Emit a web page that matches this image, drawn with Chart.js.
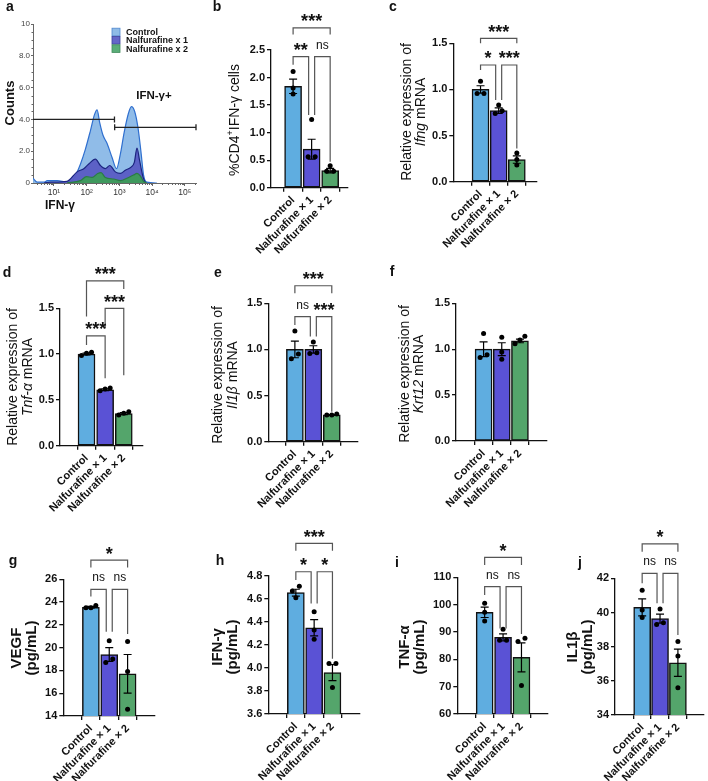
<!DOCTYPE html>
<html>
<head>
<meta charset="utf-8">
<script src="https://cdn.jsdelivr.net/npm/chart.js@4.4.1/dist/chart.umd.min.js"></script>
<style>
  body { margin: 0; background: #fff; }
  #fig { position: relative; width: 708px; height: 781px; overflow: hidden; }
  #fig canvas { position: absolute; }
</style>
</head>
<body>
<div id="fig"></div>
<script>
const FONT = "'Liberation Sans', Arial, Helvetica, sans-serif";
const groups = ['Control', 'Nalfurafine × 1', 'Nalfurafine × 2'];
const barColors = ['#5fade0', '#5a52d5', '#54a56b'];

// panel a: flow histogram (IFN-γ intensity vs counts)
const histNames = ['Control', 'Nalfurafine x 1', 'Nalfurafine x 2'];
const histCtrlX = [2.3, 3.1, 5, 6.3, 12.6, 25, 41, 65, 91, 131, 174, 209, 251, 317, 420, 600, 820, 1070, 1410, 1910, 2330, 2940, 3700, 4560, 5500, 6900, 14000];
const histCtrlY = [0.3, 0.05, 0.05, 0.15, 0.15, 0.05, 0.3, 1.2, 2.1, 3.3, 4.3, 4.6, 3.8, 3.0, 2.5, 1.6, 0.9, 1.8, 3.2, 4.4, 4.8, 4.5, 3.5, 2.0, 0.5, 0.05, 0];
const histN1X = [5, 7.9, 25, 51, 82, 116, 186, 264, 372, 509, 755, 1070, 1520, 2280, 2870, 3460, 4170, 5260, 6300];
const histN1Y = [0, 0.05, 0.1, 0.7, 0.9, 1.2, 1.5, 1.1, 0.9, 1.1, 0.7, 0.6, 0.8, 1.0, 1.3, 2.2, 1.4, 0.4, 0];
const histN2X = [25, 65, 99, 147, 219, 276, 372, 676, 1070, 1710, 2710, 3460, 4350, 5500, 6900];
const histN2Y = [0, 0.15, 0.4, 0.35, 0.6, 0.65, 0.35, 0.25, 0.15, 0.3, 0.5, 0.6, 0.45, 0.1, 0];
const histXTicks = [10, 100, 1000, 10000, 100000];
const histXLabels = ['10¹', '10²', '10³', '10⁴', '10⁵'];
const histYTicks = [0, 2, 4, 6, 8, 10];
const gateFrom = [2.3, 720];
const gateTo = [710, 220000];
const gateY = [4.0, 3.5];

// bar panels: mean, sem, individual points, brackets [from, to, lineY, leftLegEnd, rightLegEnd, label]
const bMean = [1.84, 0.70, 0.31];
const bSem = [0.13, 0.18, 0.04];
const bPts = [[2.11, 1.81, 1.70], [1.24, 0.56, 0.56], [0.40, 0.30, 0.30]];
const bSig = [[0, 2, 2.90, 2.78, 2.78, '***'], [0, 1, 2.38, 2.23, 1.32, '**'], [1, 2, 2.38, 1.32, 0.47, 'ns']];

const cMean = [1.00, 0.77, 0.24];
const cSem = [0.04, 0.03, 0.04];
const cPts = [[1.09, 0.955, 0.955], [0.83, 0.74, 0.77], [0.31, 0.24, 0.18]];
const cSig = [[0, 2, 1.554, 1.50, 1.50, '***'], [0, 1, 1.265, 1.21, 0.885, '*'], [1, 2, 1.265, 0.885, 0.36, '***']];

const dMean = [1.00, 0.61, 0.35];
const dSem = [0.01, 0.01, 0.01];
const dPts = [[0.985, 1.02, 1.01], [0.60, 0.63, 0.62], [0.335, 0.37, 0.353]];
const dSig = [[0, 2, 1.80, 1.41, 1.71, '***'], [1, 2, 1.50, 1.28, 0.77, '***'], [0, 1, 1.20, 1.10, 0.735, '***']];

const eMean = [1.00, 1.00, 0.29];
const eSem = [0.09, 0.04, 0.005];
const ePts = [[1.20, 0.90, 0.95], [1.08, 0.955, 0.965], [0.29, 0.30, 0.29]];
const eSig = [[0, 2, 1.69, 1.61, 1.61, '***'], [0, 1, 1.355, 1.265, 1.14, 'ns'], [1, 2, 1.355, 1.14, 0.325, '***']];

const fMean = [1.00, 1.00, 1.09];
const fSem = [0.08, 0.07, 0.02];
const fPts = [[1.17, 0.91, 0.94], [1.13, 0.89, 0.97], [1.14, 1.06, 1.10]];
const fSig = [];

const gMean = [23.55, 19.4, 17.7];
const gSem = [0.07, 0.6, 1.7];
const gPts = [[23.5, 23.7, 23.5], [20.6, 18.7, 19.0], [20.55, 17.9, 14.6]];
const gSig = [[0, 2, 27.69, 27.03, 27.03, '*'], [0, 1, 25.12, 24.48, 21.4, 'ns'], [1, 2, 25.12, 21.4, 21.2, 'ns']];

const hMean = [4.655, 4.35, 3.96];
const hSem = [0.03, 0.07, 0.07];
const hPts = [[4.71, 4.67, 4.61], [4.49, 4.33, 4.25], [4.04, 4.04, 3.83]];
const hSig = [[0, 2, 5.084, 5.02, 5.02, '***'], [0, 1, 4.837, 4.765, 4.56, '*'], [1, 2, 4.837, 4.56, 4.08, '*']];

const iMean = [97.2, 88.0, 80.7];
const iSem = [1.9, 1.3, 5.3];
const iPts = [[100.5, 97.2, 94.0], [91.0, 87.0, 87.0], [87.7, 86.5, 70.4]];
const iSig = [[0, 2, 117.3, 114.5, 114.5, '*'], [0, 1, 106.6, 103.5, 91.3, 'ns'], [1, 2, 106.6, 91.3, 89.3, 'ns']];

const jMean = [40.3, 39.64, 37.06];
const jSem = [0.5, 0.26, 0.8];
const jPts = [[41.3, 40.15, 39.7], [40.2, 39.3, 39.4], [38.3, 37.45, 35.6]];
const jSig = [[0, 2, 44.01, 43.56, 43.56, '*'], [0, 1, 42.29, 41.71, 40.54, 'ns'], [1, 2, 42.29, 40.54, 38.68, 'ns']];

const fig = document.getElementById('fig');
function addCanvas(l, t, w, h) {
  const c = document.createElement('canvas');
  c.width = w; c.height = h;
  c.style.left = l + 'px'; c.style.top = t + 'px';
  c.style.width = w + 'px'; c.style.height = h + 'px';
  fig.appendChild(c);
  return c;
}

function drawRotated(ctx, x, y, parts, size, weight) {
  ctx.save();
  ctx.translate(x, y);
  ctx.rotate(-Math.PI / 2);
  const fonts = parts.map(p => (p[1] === 'i' ? 'italic ' : '') + weight + ' ' + (p[1] === 'sup' ? size * 0.65 : size) + 'px ' + FONT);
  let total = 0;
  parts.forEach((p, k) => { ctx.font = fonts[k]; total += ctx.measureText(p[0]).width; });
  let cx = -total / 2;
  ctx.fillStyle = '#111';
  ctx.textAlign = 'left';
  ctx.textBaseline = 'middle';
  parts.forEach((p, k) => {
    ctx.font = fonts[k];
    ctx.fillText(p[0], cx, p[1] === 'sup' ? -size * 0.32 : 0);
    cx += ctx.measureText(p[0]).width;
  });
  ctx.restore();
}

function drawLetter(ctx, txt, x, y) {
  ctx.save();
  ctx.font = 'bold 14px ' + FONT;
  ctx.fillStyle = '#111';
  ctx.textAlign = 'center';
  ctx.textBaseline = 'middle';
  ctx.fillText(txt, x, y);
  ctx.restore();
}

// ---------- panel a ----------
(function () {
  const box = [0, 0, 205, 220];
  const cv = addCanvas(...box);
  const decor = {
    id: 'histDecor',
    afterDraw(chart) {
      const ctx = chart.ctx, xs = chart.scales.x, ys = chart.scales.y;
      // minor ticks
      ctx.save();
      ctx.strokeStyle = '#666'; ctx.lineWidth = 1;
      for (let d = 1; d <= 100000; d *= 10) {
        for (let m = 2; m <= 9; m++) {
          const v = d * m;
          if (v < xs.min || v > xs.max) continue;
          const px = Math.round(xs.getPixelForValue(v)) + 0.5;
          ctx.beginPath(); ctx.moveTo(px, ys.bottom); ctx.lineTo(px, ys.bottom + 2); ctx.stroke();
        }
      }
      for (let v = 0.5; v < 10; v += 0.5) {
        if (v % 2 === 0) continue;
        const py = Math.round(ys.getPixelForValue(v)) + 0.5;
        ctx.beginPath(); ctx.moveTo(xs.left, py); ctx.lineTo(xs.left - 1.5, py); ctx.stroke();
      }
      // gates
      ctx.strokeStyle = '#222'; ctx.lineWidth = 1.3;
      gateY.forEach((gy, k) => {
        const x1 = xs.getPixelForValue(gateFrom[k]), x2 = xs.getPixelForValue(gateTo[k]);
        const y = ys.getPixelForValue(gy);
        ctx.beginPath(); ctx.moveTo(x1, y); ctx.lineTo(x2, y);
        ctx.moveTo(x2, y - 3); ctx.lineTo(x2, y + 3);
        if (k > 0) { ctx.moveTo(x1, y - 3); ctx.lineTo(x1, y + 3); }
        ctx.stroke();
      });
      // legend
      const legFill = ['#8fbbe6', '#6466c8', '#5aad78'];
      const legEdge = ['#4f88cf', '#3a3f9c', '#3f8a5a'];
      histNames.forEach((n, k) => {
        const y = 32 + k * 8.3;
        ctx.fillStyle = legFill[k]; ctx.fillRect(112, y - 3.8, 8, 7.6);
        ctx.strokeStyle = legEdge[k]; ctx.lineWidth = 0.8; ctx.strokeRect(112, y - 3.8, 8, 7.6);
        ctx.fillStyle = '#111'; ctx.font = 'bold 9px ' + FONT;
        ctx.textAlign = 'left'; ctx.textBaseline = 'middle';
        ctx.fillText(n, 126, y + 0.5);
      });
      ctx.font = 'bold 11.5px ' + FONT;
      ctx.textAlign = 'center'; ctx.textBaseline = 'middle';
      ctx.fillText('IFN-γ+', 154, 96);
      ctx.font = 'bold 12px ' + FONT;
      ctx.fillText('IFN-γ', 60, 206);
      ctx.restore();
      drawRotated(ctx, 10.5, 103, [['Counts', '']], 13, 'bold');
      drawLetter(ctx, 'a', 10, 7);
    }
  };
  const toPts = (xs, ys) => xs.map((x, i) => ({ x, y: ys[i] }));
  new Chart(cv, {
    type: 'line',
    data: {
      datasets: [
        { label: histNames[0], data: toPts(histCtrlX, histCtrlY), borderColor: '#2f6fcf', backgroundColor: 'rgba(135,182,230,0.92)', fill: 'origin', order: 3 },
        { label: histNames[1], data: toPts(histN1X, histN1Y), borderColor: '#1c2580', backgroundColor: 'rgba(90,92,196,0.95)', fill: 'origin', order: 2 },
        { label: histNames[2], data: toPts(histN2X, histN2Y), borderColor: '#2a7d43', backgroundColor: 'rgba(62,156,88,0.95)', fill: 'origin', order: 1 }
      ]
    },
    options: {
      responsive: false, animation: false, devicePixelRatio: 1,
      layout: { padding: { left: 0, top: 24, right: 9, bottom: 0 } },
      elements: { point: { radius: 0 }, line: { borderWidth: 1.2, cubicInterpolationMode: 'monotone' } },
      plugins: { legend: { display: false }, tooltip: { enabled: false } },
      scales: {
        x: {
          type: 'logarithmic', min: 2.3, max: 220000,
          afterFit: s => { s.height = 37; },
          afterBuildTicks: s => { s.ticks = histXTicks.map(v => ({ value: v })); },
          ticks: { callback: (v, i) => histXLabels[i], autoSkip: false, maxRotation: 0, font: { family: FONT, size: 8.5 }, color: '#333', padding: 2 },
          grid: { drawOnChartArea: false, tickLength: 3, color: '#666' },
          border: { color: '#666', width: 1 }
        },
        y: {
          min: 0, max: 10,
          afterFit: s => { s.width = 33; },
          afterBuildTicks: s => { s.ticks = histYTicks.map(v => ({ value: v })); },
          ticks: { callback: v => (v === 0 ? '0' : v === 10 ? '10' : v.toFixed(1)), font: { family: FONT, size: 8 }, color: '#444', padding: 1 },
          grid: { drawOnChartArea: false, tickLength: 2, color: '#666' },
          border: { color: '#666', width: 1 }
        }
      }
    },
    plugins: [decor]
  });
})();

// ---------- bar panels ----------
function spreadOffsets(vals, thr) {
  const idx = vals.map((v, i) => i).sort((a, b) => vals[a] - vals[b]);
  const offs = vals.map(() => 0);
  let cluster = [idx[0]];
  const flush = () => {
    const pat = cluster.length === 1 ? [0] : cluster.length === 2 ? [-0.19, 0.19] : [-0.27, 0, 0.27];
    cluster.forEach((k, j) => { offs[k] = pat[j]; });
  };
  for (let j = 1; j < idx.length; j++) {
    if (vals[idx[j]] - vals[idx[j - 1]] < thr) cluster.push(idx[j]);
    else { flush(); cluster = [idx[j]]; }
  }
  flush();
  return offs;
}

function barPanel(p) {
  const [bl, bt, bw, bh] = p.box;
  const cv = addCanvas(bl, bt, bw, bh);
  const ptsData = [];
  p.pts.forEach((vals, g) => {
    const offs = spreadOffsets(vals, (p.y[1] - p.y[0]) * 0.035);
    vals.forEach((v, k) => ptsData.push({ x: g + offs[k], y: v }));
  });
  const tickFont = { family: FONT, size: 11, weight: 'bold' };
  const decor = {
    id: 'barDecor',
    afterDatasetDraw(chart, args) {
      if (args.index !== 0) return;
      const ctx = chart.ctx, xs = chart.scales.x, ys = chart.scales.y;
      ctx.save();
      ctx.strokeStyle = '#000'; ctx.lineWidth = 1.2;
      p.mean.forEach((m, g) => {
        const x = xs.getPixelForValue(g);
        const yt = ys.getPixelForValue(m + p.sem[g]);
        const yb = ys.getPixelForValue(m - p.sem[g]);
        ctx.beginPath();
        ctx.moveTo(x, yt); ctx.lineTo(x, yb);
        ctx.moveTo(x - 4, yt); ctx.lineTo(x + 4, yt);
        ctx.moveTo(x - 4, yb); ctx.lineTo(x + 4, yb);
        ctx.stroke();
      });
      ctx.restore();
    },
    afterDraw(chart) {
      const ctx = chart.ctx, xs = chart.scales.x, ys = chart.scales.y;
      ctx.save();
      p.sig.forEach(b => {
        const [from, to, yv, l1, l2, txt] = b;
        let x1 = xs.getPixelForValue(from), x2 = xs.getPixelForValue(to);
        if (p.sig.some(o => o !== b && o[2] === yv && o[1] === from)) x1 += 3;
        if (p.sig.some(o => o !== b && o[2] === yv && o[0] === to)) x2 -= 3;
        const y = ys.getPixelForValue(yv);
        ctx.strokeStyle = '#555'; ctx.lineWidth = 1.2;
        ctx.beginPath();
        ctx.moveTo(x1, ys.getPixelForValue(l1)); ctx.lineTo(x1, y);
        ctx.lineTo(x2, y); ctx.lineTo(x2, ys.getPixelForValue(l2));
        ctx.stroke();
        ctx.fillStyle = '#111'; ctx.textAlign = 'center'; ctx.textBaseline = 'alphabetic';
        if (txt === 'ns') { ctx.font = '12px ' + FONT; ctx.fillText(txt, (x1 + x2) / 2, y - 8); }
        else { ctx.font = 'bold 18px ' + FONT; ctx.fillText(txt, (x1 + x2) / 2, y - 0.5); }
      });
      ctx.restore();
      p.title.forEach(line => drawRotated(ctx, line.x - bl, p.titleY - bt, line.parts, p.titleSize, p.titleWeight));
      drawLetter(ctx, p.letter, p.letterAt[0] - bl, p.letterAt[1] - bt);
    }
  };
  new Chart(cv, {
    type: 'bar',
    data: {
      datasets: [
        { type: 'bar', data: p.mean.map((m, g) => ({ x: g, y: m })), backgroundColor: barColors, borderColor: '#111', borderWidth: 1.5, borderSkipped: false, barThickness: 17, order: 2 },
        { type: 'scatter', data: ptsData, pointRadius: 2.5, pointBackgroundColor: '#000', pointBorderWidth: 0, order: 1 }
      ]
    },
    options: {
      responsive: false, animation: false, devicePixelRatio: 1,
      layout: { padding: { left: 0, top: p.plot[1] - bt, right: bl + bw - p.plot[2], bottom: 0 } },
      plugins: { legend: { display: false }, tooltip: { enabled: false } },
      scales: {
        x: {
          type: 'linear', min: p.x[0], max: p.x[1],
          afterFit: s => { s.height = bt + bh - p.plot[3]; },
          afterBuildTicks: s => { s.ticks = [0, 1, 2].map(v => ({ value: v })); },
          ticks: { callback: (v, i) => groups[i], autoSkip: false, maxRotation: 45, minRotation: 45, font: tickFont, color: '#111', padding: 2 },
          grid: { drawOnChartArea: false, tickLength: 4, color: '#111', lineWidth: 1.3 },
          border: { color: '#111', width: 1.3 }
        },
        y: {
          min: p.y[0], max: p.y[1],
          afterFit: s => { s.width = p.plot[0] - bl; },
          ticks: { stepSize: p.step, callback: v => v.toFixed(p.dec), font: tickFont, color: '#111', padding: 2 },
          grid: { drawOnChartArea: false, tickLength: 4, color: '#111', lineWidth: 1.3 },
          border: { color: '#111', width: 1.3 }
        }
      }
    },
    plugins: [decor]
  });
}

const relLine = { parts: [['Relative expression of', '']] };
const pgLine = { parts: [['(pg/mL)', '']] };

barPanel({ letter: 'b', letterAt: [217, 7], box: [205, 0, 165, 262], plot: [271, 50, 348, 187.7], x: [-0.5, 2.27], y: [0, 2.5], step: 0.5, dec: 1,
  mean: bMean, sem: bSem, pts: bPts, sig: bSig, titleSize: 14, titleWeight: 'normal', titleY: 120,
  title: [{ x: 235, parts: [['%CD4', ''], ['+', 'sup'], ['IFN-γ cells', '']] }] });
barPanel({ letter: 'c', letterAt: [393, 7], box: [370, 0, 200, 262], plot: [453.3, 43.3, 536.7, 181.7], x: [-0.735, 2.33], y: [0, 1.5], step: 0.5, dec: 1,
  mean: cMean, sem: cSem, pts: cPts, sig: cSig, titleSize: 14, titleWeight: 'normal', titleY: 112,
  title: [{ x: 406.7, parts: relLine.parts }, { x: 421, parts: [['Ifng', 'i'], [' mRNA', '']] }] });
barPanel({ letter: 'd', letterAt: [7, 273], box: [0, 262, 205, 260], plot: [60, 308.3, 143, 445.7], x: [-0.68, 2.29], y: [0, 1.5], step: 0.5, dec: 1,
  mean: dMean, sem: dSem, pts: dPts, sig: dSig, titleSize: 14, titleWeight: 'normal', titleY: 377,
  title: [{ x: 13, parts: relLine.parts }, { x: 28, parts: [['Tnf-α', 'i'], [' mRNA', '']] }] });
barPanel({ letter: 'e', letterAt: [218, 273], box: [205, 262, 180, 260], plot: [268.3, 303.3, 358, 441.7], x: [-0.63, 2.61], y: [0, 1.5], step: 0.5, dec: 1,
  mean: eMean, sem: eSem, pts: ePts, sig: eSig, titleSize: 14, titleWeight: 'normal', titleY: 375,
  title: [{ x: 218, parts: relLine.parts }, { x: 233, parts: [['Il1β', 'i'], [' mRNA', '']] }] });
barPanel({ letter: 'f', letterAt: [392, 272], box: [385, 262, 185, 260], plot: [456, 303.3, 546.7, 441], x: [-0.685, 2.64], y: [0, 1.5], step: 0.5, dec: 1,
  mean: fMean, sem: fSem, pts: fPts, sig: fSig, titleSize: 14, titleWeight: 'normal', titleY: 374,
  title: [{ x: 405, parts: relLine.parts }, { x: 419, parts: [['Krt12', 'i'], [' mRNA', '']] }] });
barPanel({ letter: 'g', letterAt: [13, 561], box: [0, 522, 175, 259], plot: [63.3, 579.3, 155, 716], x: [-0.67, 2.66], y: [14, 26], step: 2, dec: 0,
  mean: gMean, sem: gSem, pts: gPts, sig: gSig, titleSize: 15, titleWeight: 'bold', titleY: 648,
  title: [{ x: 16.7, parts: [['VEGF', '']] }, { x: 32, parts: pgLine.parts }] });
barPanel({ letter: 'h', letterAt: [220, 561], box: [175, 522, 190, 259], plot: [268.3, 576, 360, 714], x: [-0.67, 2.67], y: [3.6, 4.8], step: 0.2, dec: 1,
  mean: hMean, sem: hSem, pts: hPts, sig: hSig, titleSize: 15, titleWeight: 'bold', titleY: 647,
  title: [{ x: 218, parts: [['IFN-γ', '']] }, { x: 233, parts: pgLine.parts }] });
barPanel({ letter: 'i', letterAt: [397, 563], box: [365, 522, 187, 259], plot: [457.3, 577.3, 548, 714], x: [-0.665, 2.62], y: [60, 110], step: 10, dec: 0,
  mean: iMean, sem: iSem, pts: iPts, sig: iSig, titleSize: 15, titleWeight: 'bold', titleY: 647,
  title: [{ x: 405, parts: [['TNF-α', '']] }, { x: 420, parts: pgLine.parts }] });
barPanel({ letter: 'j', letterAt: [580, 563], box: [530, 522, 178, 259], plot: [615, 578.3, 706.7, 715], x: [-0.69, 2.63], y: [34, 42], step: 2, dec: 0,
  mean: jMean, sem: jSem, pts: jPts, sig: jSig, titleSize: 15, titleWeight: 'bold', titleY: 647,
  title: [{ x: 573, parts: [['IL1β', '']] }, { x: 588, parts: pgLine.parts }] });
</script>
</body>
</html>
